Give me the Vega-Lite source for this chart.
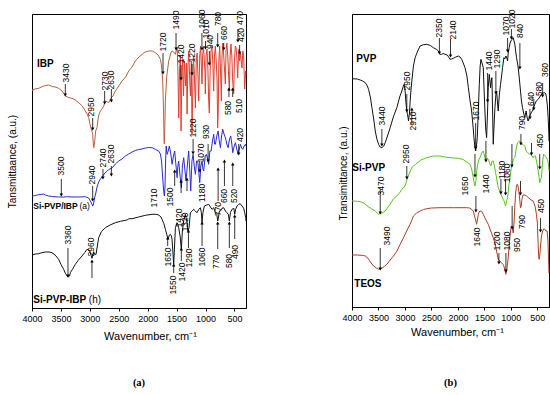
{
"$schema": "https://vega.github.io/schema/vega-lite/v6.json",
"background": "white",
"padding": {"left": 7, "top": 9, "right": 0, "bottom": 0},
"bounds": "flush",
"spacing": 106,
"config": {
  "font": "Liberation Sans",
  "view": {"stroke": "black", "strokeWidth": 1},
  "axis": {"domainColor": "black", "domainWidth": 1, "tickColor": "black", "labelColor": "black", "titleColor": "black", "grid": false, "labelFont": "Liberation Sans", "titleFont": "Liberation Sans", "titleFontWeight": "normal"}
},
"datasets": {
"a_lines": [
{"s":"IBP","w":4000,"v":217.7},{"s":"IBP","w":3950,"v":219},{"s":"IBP","w":3885,"v":219.7},{"s":"IBP","w":3800,"v":222},{"s":"IBP","w":3712,"v":223},{"s":"IBP","w":3650,"v":221.5},{"s":"IBP","w":3600,"v":221},{"s":"IBP","w":3539,"v":219.7},{"s":"IBP","w":3480,"v":217},{"s":"IBP","w":3424,"v":212},{"s":"IBP","w":3370,"v":210.5},{"s":"IBP","w":3309,"v":209.7},{"s":"IBP","w":3250,"v":208},{"s":"IBP","w":3193,"v":205.3},{"s":"IBP","w":3130,"v":202},{"s":"IBP","w":3078,"v":197},{"s":"IBP","w":3040,"v":193},{"s":"IBP","w":3020,"v":190.3},{"s":"IBP","w":2991,"v":182},{"s":"IBP","w":2965,"v":177},{"s":"IBP","w":2951,"v":173.7},{"s":"IBP","w":2940,"v":164},{"s":"IBP","w":2930,"v":160.3},{"s":"IBP","w":2915,"v":167},{"s":"IBP","w":2900,"v":177},{"s":"IBP","w":2876,"v":180.3},{"s":"IBP","w":2850,"v":192},{"s":"IBP","w":2818,"v":197},{"s":"IBP","w":2790,"v":199},{"s":"IBP","w":2760,"v":202},{"s":"IBP","w":2732,"v":207},{"s":"IBP","w":2700,"v":206},{"s":"IBP","w":2674,"v":205.3},{"s":"IBP","w":2650,"v":208},{"s":"IBP","w":2628,"v":210.3},{"s":"IBP","w":2600,"v":212},{"s":"IBP","w":2559,"v":217},{"s":"IBP","w":2500,"v":222},{"s":"IBP","w":2443,"v":227},{"s":"IBP","w":2380,"v":231},{"s":"IBP","w":2328,"v":237},{"s":"IBP","w":2270,"v":241},{"s":"IBP","w":2213,"v":247},{"s":"IBP","w":2150,"v":251},{"s":"IBP","w":2097,"v":253.7},{"s":"IBP","w":2040,"v":256},{"s":"IBP","w":1982,"v":257},{"s":"IBP","w":1920,"v":257},{"s":"IBP","w":1867,"v":255.3},{"s":"IBP","w":1820,"v":253},{"s":"IBP","w":1780,"v":248.7},{"s":"IBP","w":1760,"v":242},{"s":"IBP","w":1740,"v":227},{"s":"IBP","w":1725,"v":197},{"s":"IBP","w":1717,"v":167},{"s":"IBP","w":1712,"v":164},{"s":"IBP","w":1705,"v":177},{"s":"IBP","w":1694,"v":207},{"s":"IBP","w":1670,"v":232},{"s":"IBP","w":1636,"v":247},{"s":"IBP","w":1600,"v":255},{"s":"IBP","w":1579,"v":257},{"s":"IBP","w":1550,"v":256},{"s":"IBP","w":1521,"v":253.7},
{"s":"IBPf","w":1521,"v":253.7},{"s":"IBPf","w":1500,"v":259},{"s":"IBPf","w":1490,"v":261},{"s":"IBPf","w":1475,"v":232},{"s":"IBPf","w":1463,"v":190},{"s":"IBPf","w":1450,"v":237},{"s":"IBPf","w":1435,"v":252},{"s":"IBPf","w":1423,"v":177},{"s":"IBPf","w":1410,"v":227},{"s":"IBPf","w":1395,"v":249},{"s":"IBPf","w":1380,"v":212},{"s":"IBPf","w":1365,"v":247},{"s":"IBPf","w":1345,"v":222},{"s":"IBPf","w":1330,"v":245},{"s":"IBPf","w":1319,"v":194},{"s":"IBPf","w":1305,"v":242},{"s":"IBPf","w":1290,"v":257},{"s":"IBPf","w":1275,"v":232},{"s":"IBPf","w":1260,"v":212},{"s":"IBPf","w":1245,"v":247},{"s":"IBPf","w":1233,"v":174},{"s":"IBPf","w":1220,"v":217},{"s":"IBPf","w":1210,"v":252},{"s":"IBPf","w":1195,"v":237},{"s":"IBPf","w":1175,"v":200},{"s":"IBPf","w":1160,"v":247},{"s":"IBPf","w":1145,"v":255},{"s":"IBPf","w":1130,"v":232},{"s":"IBPf","w":1118,"v":207},{"s":"IBPf","w":1100,"v":252},{"s":"IBPf","w":1085,"v":262},{"s":"IBPf","w":1075,"v":247},{"s":"IBPf","w":1061,"v":224},{"s":"IBPf","w":1050,"v":252},{"s":"IBPf","w":1035,"v":262},{"s":"IBPf","w":1020,"v":247},{"s":"IBPf","w":1010,"v":237},{"s":"IBPf","w":1003,"v":214},{"s":"IBPf","w":990,"v":252},{"s":"IBPf","w":975,"v":259},{"s":"IBPf","w":960,"v":242},{"s":"IBPf","w":945,"v":207},{"s":"IBPf","w":934,"v":195},{"s":"IBPf","w":920,"v":237},{"s":"IBPf","w":905,"v":257},{"s":"IBPf","w":890,"v":262},{"s":"IBPf","w":875,"v":247},{"s":"IBPf","w":859,"v":217},{"s":"IBPf","w":845,"v":252},{"s":"IBPf","w":830,"v":262},{"s":"IBPf","w":815,"v":247},{"s":"IBPf","w":800,"v":227},{"s":"IBPf","w":790,"v":180},{"s":"IBPf","w":780,"v":197},{"s":"IBPf","w":770,"v":247},{"s":"IBPf","w":755,"v":262},{"s":"IBPf","w":740,"v":237},{"s":"IBPf","w":727,"v":207},{"s":"IBPf","w":715,"v":252},{"s":"IBPf","w":700,"v":265},{"s":"IBPf","w":685,"v":252},{"s":"IBPf","w":670,"v":237},{"s":"IBPf","w":657,"v":224},{"s":"IBPf","w":645,"v":257},{"s":"IBPf","w":630,"v":265},{"s":"IBPf","w":615,"v":252},{"s":"IBPf","w":600,"v":232},{"s":"IBPf","w":588,"v":217},{"s":"IBPf","w":575,"v":252},{"s":"IBPf","w":560,"v":264},{"s":"IBPf","w":545,"v":252},{"s":"IBPf","w":530,"v":227},{"s":"IBPf","w":513,"v":214},{"s":"IBPf","w":500,"v":247},{"s":"IBPf","w":485,"v":262},{"s":"IBPf","w":470,"v":260},{"s":"IBPf","w":455,"v":247},{"s":"IBPf","w":444,"v":230},{"s":"IBPf","w":430,"v":252},{"s":"IBPf","w":420,"v":259},{"s":"IBPf","w":410,"v":247},{"s":"IBPf","w":395,"v":255},{"s":"IBPf","w":380,"v":245},{"s":"IBPf","w":369,"v":240},{"s":"IBPf","w":355,"v":257},{"s":"IBPf","w":340,"v":252},{"s":"IBPf","w":330,"v":232},{"s":"IBPf","w":323,"v":219},{"s":"IBPf","w":315,"v":227},{"s":"IBPf","w":305,"v":237},{"s":"IBPf","w":300,"v":232},
{"s":"SiA","w":4000,"v":111.7},{"s":"SiA","w":3950,"v":112.5},{"s":"SiA","w":3885,"v":113.3},{"s":"SiA","w":3800,"v":114},{"s":"SiA","w":3770,"v":113},{"s":"SiA","w":3712,"v":112},{"s":"SiA","w":3650,"v":111.5},{"s":"SiA","w":3539,"v":111},{"s":"SiA","w":3450,"v":111},{"s":"SiA","w":3400,"v":111.3},{"s":"SiA","w":3309,"v":111},{"s":"SiA","w":3193,"v":111},{"s":"SiA","w":3078,"v":111.3},{"s":"SiA","w":3020,"v":110},{"s":"SiA","w":2991,"v":107},{"s":"SiA","w":2965,"v":104},{"s":"SiA","w":2951,"v":102},{"s":"SiA","w":2940,"v":103},{"s":"SiA","w":2930,"v":106},{"s":"SiA","w":2915,"v":111},{"s":"SiA","w":2900,"v":114},{"s":"SiA","w":2876,"v":121},{"s":"SiA","w":2847,"v":126},{"s":"SiA","w":2818,"v":129},{"s":"SiA","w":2790,"v":131},{"s":"SiA","w":2740,"v":135},{"s":"SiA","w":2700,"v":137},{"s":"SiA","w":2674,"v":138.5},{"s":"SiA","w":2630,"v":139.5},{"s":"SiA","w":2600,"v":141},{"s":"SiA","w":2559,"v":144},{"s":"SiA","w":2500,"v":147},{"s":"SiA","w":2443,"v":149},{"s":"SiA","w":2386,"v":152},{"s":"SiA","w":2328,"v":154},{"s":"SiA","w":2270,"v":156},{"s":"SiA","w":2213,"v":157.5},{"s":"SiA","w":2155,"v":158.5},{"s":"SiA","w":2097,"v":159},{"s":"SiA","w":2040,"v":160},{"s":"SiA","w":1982,"v":160.5},{"s":"SiA","w":1924,"v":160.3},{"s":"SiA","w":1867,"v":158.7},{"s":"SiA","w":1810,"v":157},{"s":"SiA","w":1780,"v":154},{"s":"SiA","w":1760,"v":147},{"s":"SiA","w":1745,"v":134},{"s":"SiA","w":1730,"v":122},{"s":"SiA","w":1718,"v":114},{"s":"SiA","w":1710,"v":112},{"s":"SiA","w":1700,"v":122},{"s":"SiA","w":1690,"v":147},{"s":"SiA","w":1680,"v":162},{"s":"SiA","w":1664,"v":153.7},{"s":"SiA","w":1645,"v":157},{"s":"SiA","w":1625,"v":162},{"s":"SiA","w":1600,"v":154},{"s":"SiA","w":1578,"v":143.7},{"s":"SiA","w":1555,"v":152},{"s":"SiA","w":1533,"v":157},{"s":"SiA","w":1510,"v":142},{"s":"SiA","w":1491,"v":130.3},{"s":"SiA","w":1478,"v":142},{"s":"SiA","w":1464,"v":147},{"s":"SiA","w":1440,"v":132},{"s":"SiA","w":1417,"v":120.3},{"s":"SiA","w":1400,"v":142},{"s":"SiA","w":1377,"v":150.3},{"s":"SiA","w":1355,"v":137},{"s":"SiA","w":1336,"v":127},{"s":"SiA","w":1315,"v":142},{"s":"SiA","w":1291,"v":157},{"s":"SiA","w":1272,"v":137},{"s":"SiA","w":1256,"v":117},{"s":"SiA","w":1235,"v":147},{"s":"SiA","w":1215,"v":153.7},{"s":"SiA","w":1195,"v":142},{"s":"SiA","w":1175,"v":133.7},{"s":"SiA","w":1155,"v":147},{"s":"SiA","w":1135,"v":147},{"s":"SiA","w":1118,"v":137},{"s":"SiA","w":1100,"v":125.3},{"s":"SiA","w":1080,"v":142},{"s":"SiA","w":1059,"v":147},{"s":"SiA","w":1045,"v":139},{"s":"SiA","w":1031,"v":137},{"s":"SiA","w":1005,"v":152},{"s":"SiA","w":984,"v":153.7},{"s":"SiA","w":965,"v":149},{"s":"SiA","w":945,"v":143.7},{"s":"SiA","w":925,"v":157},{"s":"SiA","w":903,"v":157},{"s":"SiA","w":880,"v":167},{"s":"SiA","w":858,"v":173.7},{"s":"SiA","w":843,"v":164},{"s":"SiA","w":829,"v":163.7},{"s":"SiA","w":805,"v":172},{"s":"SiA","w":782,"v":177},{"s":"SiA","w":762,"v":167},{"s":"SiA","w":742,"v":160.3},{"s":"SiA","w":722,"v":172},{"s":"SiA","w":702,"v":178.7},{"s":"SiA","w":680,"v":174},{"s":"SiA","w":656,"v":170.3},{"s":"SiA","w":632,"v":164},{"s":"SiA","w":609,"v":160.3},{"s":"SiA","w":585,"v":169},{"s":"SiA","w":564,"v":172},{"s":"SiA","w":545,"v":164},{"s":"SiA","w":529,"v":155.3},{"s":"SiA","w":505,"v":162},{"s":"SiA","w":483,"v":165.3},{"s":"SiA","w":460,"v":159},{"s":"SiA","w":436,"v":153.7},{"s":"SiA","w":415,"v":159},{"s":"SiA","w":396,"v":163.7},{"s":"SiA","w":375,"v":160},{"s":"SiA","w":356,"v":158.7},{"s":"SiA","w":330,"v":162},{"s":"SiA","w":310,"v":163.7},{"s":"SiA","w":300,"v":162},
{"s":"SiH","w":4000,"v":53},{"s":"SiH","w":3940,"v":54},{"s":"SiH","w":3885,"v":54.3},{"s":"SiH","w":3830,"v":55.3},{"s":"SiH","w":3770,"v":56},{"s":"SiH","w":3700,"v":56},{"s":"SiH","w":3655,"v":55.3},{"s":"SiH","w":3600,"v":53},{"s":"SiH","w":3539,"v":48.7},{"s":"SiH","w":3500,"v":43.7},{"s":"SiH","w":3453,"v":38.7},{"s":"SiH","w":3420,"v":34.3},{"s":"SiH","w":3378,"v":31},{"s":"SiH","w":3350,"v":32},{"s":"SiH","w":3337,"v":35.3},{"s":"SiH","w":3300,"v":38.7},{"s":"SiH","w":3251,"v":43.7},{"s":"SiH","w":3200,"v":47.7},{"s":"SiH","w":3136,"v":52},{"s":"SiH","w":3090,"v":55.3},{"s":"SiH","w":3049,"v":58.7},{"s":"SiH","w":3010,"v":57.7},{"s":"SiH","w":2991,"v":55.3},{"s":"SiH","w":2975,"v":52},{"s":"SiH","w":2963,"v":49.7},{"s":"SiH","w":2950,"v":53},{"s":"SiH","w":2934,"v":56.3},{"s":"SiH","w":2920,"v":53.7},{"s":"SiH","w":2893,"v":53.7},{"s":"SiH","w":2870,"v":62},{"s":"SiH","w":2847,"v":70.3},{"s":"SiH","w":2800,"v":76.3},{"s":"SiH","w":2732,"v":80.3},{"s":"SiH","w":2650,"v":83},{"s":"SiH","w":2559,"v":85.3},{"s":"SiH","w":2470,"v":86.7},{"s":"SiH","w":2386,"v":87.7},{"s":"SiH","w":2350,"v":88},{"s":"SiH","w":2330,"v":89.3},{"s":"SiH","w":2270,"v":89.3},{"s":"SiH","w":2155,"v":91},{"s":"SiH","w":2040,"v":92.7},{"s":"SiH","w":1924,"v":93.7},{"s":"SiH","w":1860,"v":93.7},{"s":"SiH","w":1809,"v":93},{"s":"SiH","w":1770,"v":91},{"s":"SiH","w":1752,"v":88.7},{"s":"SiH","w":1720,"v":84.3},{"s":"SiH","w":1694,"v":78.7},{"s":"SiH","w":1670,"v":73.7},{"s":"SiH","w":1648,"v":68.7},{"s":"SiH","w":1625,"v":73},{"s":"SiH","w":1607,"v":73.7},{"s":"SiH","w":1590,"v":72},{"s":"SiH","w":1579,"v":68.7},{"s":"SiH","w":1565,"v":57},{"s":"SiH","w":1550,"v":43.7},{"s":"SiH","w":1535,"v":62},{"s":"SiH","w":1521,"v":80.3},{"s":"SiH","w":1493,"v":85.3},{"s":"SiH","w":1478,"v":83.7},{"s":"SiH","w":1464,"v":80.3},{"s":"SiH","w":1440,"v":72},{"s":"SiH","w":1418,"v":58.7},{"s":"SiH","w":1400,"v":77},{"s":"SiH","w":1378,"v":87},{"s":"SiH","w":1349,"v":93.7},{"s":"SiH","w":1325,"v":87.7},{"s":"SiH","w":1303,"v":77},{"s":"SiH","w":1285,"v":80.3},{"s":"SiH","w":1262,"v":95.3},{"s":"SiH","w":1230,"v":97},{"s":"SiH","w":1205,"v":98.7},{"s":"SiH","w":1175,"v":97},{"s":"SiH","w":1147,"v":95.3},{"s":"SiH","w":1115,"v":98.7},{"s":"SiH","w":1089,"v":100.3},{"s":"SiH","w":1072,"v":95.3},{"s":"SiH","w":1060,"v":85.3},{"s":"SiH","w":1045,"v":95.3},{"s":"SiH","w":1020,"v":102},{"s":"SiH","w":980,"v":103},{"s":"SiH","w":945,"v":103.7},{"s":"SiH","w":915,"v":101},{"s":"SiH","w":887,"v":98.7},{"s":"SiH","w":858,"v":100.3},{"s":"SiH","w":830,"v":95.3},{"s":"SiH","w":805,"v":93.7},{"s":"SiH","w":789,"v":87},{"s":"SiH","w":775,"v":91},{"s":"SiH","w":760,"v":97},{"s":"SiH","w":743,"v":97},{"s":"SiH","w":715,"v":99.7},{"s":"SiH","w":686,"v":100.3},{"s":"SiH","w":655,"v":97},{"s":"SiH","w":628,"v":95.3},{"s":"SiH","w":605,"v":93.7},{"s":"SiH","w":588,"v":87},{"s":"SiH","w":570,"v":95.3},{"s":"SiH","w":541,"v":98.7},{"s":"SiH","w":510,"v":99.7},{"s":"SiH","w":495,"v":93.7},{"s":"SiH","w":480,"v":98.7},{"s":"SiH","w":455,"v":102},{"s":"SiH","w":426,"v":103.7},{"s":"SiH","w":400,"v":104.3},{"s":"SiH","w":368,"v":102},{"s":"SiH","w":340,"v":99.7},{"s":"SiH","w":322,"v":95.3},{"s":"SiH","w":305,"v":90.3},{"s":"SiH","w":300,"v":87}
],
"a_txt": [
{"w":3410,"v":235,"t":"3430"},{"w":2974,"v":201,"t":"2950"},{"w":2744,"v":227,"t":"2730"},{"w":2628,"v":228,"t":"2630"},{"w":1740,"v":266,"t":"1720"},{"w":1510,"v":288,"t":"1490"},{"w":1423,"v":254,"t":"1420"},{"w":1233,"v":255,"t":"1220"},{"w":1059,"v":289,"t":"1060"},{"w":997,"v":279,"t":"1010"},{"w":927,"v":266,"t":"940"},{"w":789,"v":289,"t":"780"},{"w":685,"v":275,"t":"660"},{"w":410,"v":290,"t":"470"},{"w":390,"v":273,"t":"420"},{"w":615,"v":200,"t":"580"},{"w":420,"v":202,"t":"510"},
{"w":3493,"v":142,"t":"3500"},{"w":2960,"v":133,"t":"2940"},{"w":2773,"v":150,"t":"2740"},{"w":2628,"v":154,"t":"2630"},{"w":1896,"v":110,"t":"1710"},{"w":1607,"v":111,"t":"1500"},{"w":1464,"v":90,"t":"1420"},{"w":1348,"v":86,"t":"1320"},{"w":1215,"v":180,"t":"1220"},{"w":1071,"v":155,"t":"1070"},{"w":1059,"v":115,"t":"1180"},{"w":984,"v":176,"t":"930"},{"w":785,"v":99,"t":"770"},{"w":673,"v":112,"t":"660"},{"w":512,"v":112,"t":"520"},{"w":408,"v":173,"t":"420"},
{"w":3378,"v":73,"t":"3360"},{"w":2979,"v":61,"t":"2960"},{"w":1654,"v":51,"t":"1650"},{"w":1561,"v":23,"t":"1550"},{"w":1405,"v":36,"t":"1420"},{"w":1291,"v":50,"t":"1290"},{"w":1059,"v":51,"t":"1060"},{"w":811,"v":46,"t":"770"},{"w":598,"v":47,"t":"580"},{"w":495,"v":56,"t":"490"}
],
"a_arr": [
{"w":3424,"v0":224,"v":213,"d":"down"},{"w":2951,"v0":190,"v":179,"d":"down"},{"w":2744,"v0":217,"v":205,"d":"down"},{"w":2628,"v0":219,"v":207,"d":"down"},{"w":1735,"v0":255,"v":235,"d":"down"},{"w":1510,"v0":275,"v":259,"d":"down"},{"w":1423,"v0":243,"v":229,"d":"down"},{"w":1233,"v0":244,"v":234,"d":"down"},{"w":1062,"v0":275,"v":259,"d":"down"},{"w":1000,"v0":267,"v":260,"d":"down"},{"w":934,"v0":257,"v":244,"d":"down"},{"w":789,"v0":275,"v":262,"d":"down"},{"w":685,"v0":265,"v":259,"d":"down"},{"w":440,"v0":279,"v":267,"d":"down"},{"w":410,"v0":263,"v":255,"d":"down"},{"w":595,"v0":211,"v":219,"d":"up"},{"w":530,"v0":211,"v":219,"d":"up"},
{"w":3493,"v0":129,"v":113,"d":"down"},{"w":2951,"v0":122,"v":108,"d":"down"},{"w":2773,"v0":139,"v":130,"d":"down"},{"w":2628,"v0":142,"v":133,"d":"down"},{"w":1533,"v0":122,"v":137,"d":"up"},{"w":1422,"v0":115,"v":127,"d":"up"},{"w":1320,"v0":117,"v":129,"d":"up"},{"w":1215,"v0":169,"v":155,"d":"down"},{"w":1100,"v0":147,"v":137,"d":"down"},{"w":955,"v0":164,"v":147,"d":"down"},{"w":782,"v0":107,"v":139,"d":"up"},{"w":673,"v0":122,"v":147,"d":"up"},{"w":529,"v0":122,"v":144,"d":"up"},{"w":426,"v0":164,"v":154,"d":"down"},
{"w":3378,"v0":60,"v":32,"d":"down"},{"w":2963,"v0":30,"v":47,"d":"up"},{"w":1654,"v0":62,"v":70,"d":"up"},{"w":1550,"v0":35,"v":43,"d":"up"},{"w":1418,"v0":47,"v":59,"d":"up"},{"w":1295,"v0":60,"v":77,"d":"up"},{"w":1060,"v0":62,"v":85,"d":"up"},{"w":789,"v0":59,"v":85,"d":"up"},{"w":588,"v0":60,"v":85,"d":"up"},{"w":495,"v0":69,"v":92,"d":"up"}
],
"a_names": [
{"w":3913,"v":244,"t":"IBP"},{"w":3978,"v":7.7,"t":"Si-PVP-IBP"}
],
"a_names_small": [
{"w":3978,"v":102,"t":"Si-PVP/IBP"}
],
"a_tags": [
{"w":3017,"v":7.7,"t":"(h)"}
],
"a_tags_small": [
{"w":3180,"v":102,"t":"(a)"}
],
"b_lines": [
{"s":"PVP","w":4000,"v":228.3},{"s":"PVP","w":3900,"v":228},{"s":"PVP","w":3844,"v":227},{"s":"PVP","w":3800,"v":226},{"s":"PVP","w":3750,"v":224.3},{"s":"PVP","w":3710,"v":221},{"s":"PVP","w":3687,"v":217.7},{"s":"PVP","w":3650,"v":209},{"s":"PVP","w":3624,"v":199.3},{"s":"PVP","w":3590,"v":188},{"s":"PVP","w":3561,"v":176},{"s":"PVP","w":3530,"v":168},{"s":"PVP","w":3498,"v":162.7},{"s":"PVP","w":3470,"v":160},{"s":"PVP","w":3436,"v":159.3},{"s":"PVP","w":3400,"v":161},{"s":"PVP","w":3373,"v":164.3},{"s":"PVP","w":3330,"v":171},{"s":"PVP","w":3279,"v":179.3},{"s":"PVP","w":3220,"v":190},{"s":"PVP","w":3153,"v":199.3},{"s":"PVP","w":3100,"v":210},{"s":"PVP","w":3059,"v":216},{"s":"PVP","w":3030,"v":221},{"s":"PVP","w":3015,"v":222.7},{"s":"PVP","w":3000,"v":218},{"s":"PVP","w":2984,"v":206},{"s":"PVP","w":2965,"v":196},{"s":"PVP","w":2952,"v":192.7},{"s":"PVP","w":2940,"v":189},{"s":"PVP","w":2933,"v":186},{"s":"PVP","w":2915,"v":194},{"s":"PVP","w":2902,"v":206},{"s":"PVP","w":2885,"v":218},{"s":"PVP","w":2870,"v":226},{"s":"PVP","w":2840,"v":241},{"s":"PVP","w":2808,"v":249.3},{"s":"PVP","w":2760,"v":256},{"s":"PVP","w":2714,"v":261},{"s":"PVP","w":2650,"v":262.3},{"s":"PVP","w":2588,"v":262.7},{"s":"PVP","w":2520,"v":261.5},{"s":"PVP","w":2463,"v":259.3},{"s":"PVP","w":2400,"v":257.5},{"s":"PVP","w":2369,"v":256},{"s":"PVP","w":2340,"v":252.7},{"s":"PVP","w":2306,"v":252.7},{"s":"PVP","w":2280,"v":253.5},{"s":"PVP","w":2243,"v":252.7},{"s":"PVP","w":2200,"v":252},{"s":"PVP","w":2170,"v":249.5},{"s":"PVP","w":2149,"v":247.7},{"s":"PVP","w":2120,"v":248},{"s":"PVP","w":2086,"v":248.7},{"s":"PVP","w":2040,"v":250},{"s":"PVP","w":1992,"v":251},{"s":"PVP","w":1960,"v":250},{"s":"PVP","w":1929,"v":247.7},{"s":"PVP","w":1900,"v":244},{"s":"PVP","w":1866,"v":239.3},{"s":"PVP","w":1830,"v":231},{"s":"PVP","w":1803,"v":219.3},{"s":"PVP","w":1770,"v":206},{"s":"PVP","w":1741,"v":196},{"s":"PVP","w":1715,"v":181},{"s":"PVP","w":1697,"v":169.3},{"s":"PVP","w":1680,"v":160},{"s":"PVP","w":1665,"v":156},{"s":"PVP","w":1650,"v":161},{"s":"PVP","w":1634,"v":169.3},{"s":"PVP","w":1615,"v":196},{"s":"PVP","w":1596,"v":222.7},{"s":"PVP","w":1580,"v":241},{"s":"PVP","w":1565,"v":247.7},{"s":"PVP","w":1545,"v":244},{"s":"PVP","w":1521,"v":239.3},{"s":"PVP","w":1505,"v":216},{"s":"PVP","w":1490,"v":196},{"s":"PVP","w":1475,"v":178},{"s":"PVP","w":1458,"v":169.3},{"s":"PVP","w":1440,"v":196},{"s":"PVP","w":1427,"v":219.3},{"s":"PVP","w":1408,"v":232.7},{"s":"PVP","w":1395,"v":226},{"s":"PVP","w":1383,"v":219.3},{"s":"PVP","w":1370,"v":226},{"s":"PVP","w":1358,"v":229.3},{"s":"PVP","w":1345,"v":196},{"s":"PVP","w":1333,"v":162.7},{"s":"PVP","w":1318,"v":181},{"s":"PVP","w":1301,"v":199.3},{"s":"PVP","w":1285,"v":211},{"s":"PVP","w":1270,"v":216},{"s":"PVP","w":1255,"v":206},{"s":"PVP","w":1239,"v":196},{"s":"PVP","w":1220,"v":211},{"s":"PVP","w":1195,"v":222.7},{"s":"PVP","w":1175,"v":231},{"s":"PVP","w":1157,"v":239.3},{"s":"PVP","w":1140,"v":246},{"s":"PVP","w":1132,"v":249.3},{"s":"PVP","w":1115,"v":248},{"s":"PVP","w":1094,"v":251},{"s":"PVP","w":1075,"v":249},{"s":"PVP","w":1063,"v":246},{"s":"PVP","w":1050,"v":254},{"s":"PVP","w":1032,"v":259.3},{"s":"PVP","w":1015,"v":264},{"s":"PVP","w":1000,"v":266},{"s":"PVP","w":980,"v":267.5},{"s":"PVP","w":956,"v":269.3},{"s":"PVP","w":940,"v":266},{"s":"PVP","w":925,"v":262.7},{"s":"PVP","w":910,"v":256},{"s":"PVP","w":893,"v":249.3},{"s":"PVP","w":875,"v":244},{"s":"PVP","w":862,"v":239.3},{"s":"PVP","w":845,"v":231},{"s":"PVP","w":818,"v":216},{"s":"PVP","w":800,"v":206},{"s":"PVP","w":780,"v":199.3},{"s":"PVP","w":760,"v":194},{"s":"PVP","w":736,"v":189.3},{"s":"PVP","w":725,"v":193},{"s":"PVP","w":712,"v":196},{"s":"PVP","w":695,"v":190},{"s":"PVP","w":674,"v":186},{"s":"PVP","w":650,"v":190},{"s":"PVP","w":630,"v":192.7},{"s":"PVP","w":610,"v":195},{"s":"PVP","w":592,"v":196},{"s":"PVP","w":570,"v":200},{"s":"PVP","w":548,"v":202.7},{"s":"PVP","w":520,"v":206},{"s":"PVP","w":485,"v":207.7},{"s":"PVP","w":455,"v":210},{"s":"PVP","w":422,"v":212.7},{"s":"PVP","w":390,"v":214},{"s":"PVP","w":359,"v":214.3},{"s":"PVP","w":340,"v":213},{"s":"PVP","w":327,"v":209.3},{"s":"PVP","w":310,"v":201},{"s":"PVP","w":296,"v":189.3},{"s":"PVP","w":285,"v":176},{"s":"PVP","w":280,"v":166},
{"s":"SiPVP","w":4000,"v":106},{"s":"SiPVP","w":3900,"v":105.7},{"s":"SiPVP","w":3844,"v":105.3},{"s":"SiPVP","w":3780,"v":104},{"s":"SiPVP","w":3750,"v":102.7},{"s":"SiPVP","w":3700,"v":100.5},{"s":"SiPVP","w":3624,"v":98},{"s":"SiPVP","w":3561,"v":96},{"s":"SiPVP","w":3498,"v":92.7},{"s":"SiPVP","w":3436,"v":94},{"s":"SiPVP","w":3373,"v":96},{"s":"SiPVP","w":3320,"v":100},{"s":"SiPVP","w":3279,"v":102.7},{"s":"SiPVP","w":3220,"v":108},{"s":"SiPVP","w":3153,"v":111},{"s":"SiPVP","w":3100,"v":114.3},{"s":"SiPVP","w":3059,"v":117.7},{"s":"SiPVP","w":3000,"v":121},{"s":"SiPVP","w":2950,"v":129.3},{"s":"SiPVP","w":2900,"v":136},{"s":"SiPVP","w":2860,"v":140},{"s":"SiPVP","w":2800,"v":142.7},{"s":"SiPVP","w":2700,"v":147},{"s":"SiPVP","w":2588,"v":149.3},{"s":"SiPVP","w":2463,"v":151},{"s":"SiPVP","w":2337,"v":151},{"s":"SiPVP","w":2250,"v":150},{"s":"SiPVP","w":2150,"v":149.3},{"s":"SiPVP","w":2000,"v":148.7},{"s":"SiPVP","w":1900,"v":147.5},{"s":"SiPVP","w":1866,"v":146},{"s":"SiPVP","w":1810,"v":144.3},{"s":"SiPVP","w":1772,"v":142.7},{"s":"SiPVP","w":1740,"v":138},{"s":"SiPVP","w":1710,"v":129.3},{"s":"SiPVP","w":1690,"v":123},{"s":"SiPVP","w":1678,"v":121},{"s":"SiPVP","w":1660,"v":126},{"s":"SiPVP","w":1645,"v":136},{"s":"SiPVP","w":1627,"v":142.7},{"s":"SiPVP","w":1600,"v":148},{"s":"SiPVP","w":1584,"v":149.3},{"s":"SiPVP","w":1550,"v":154},{"s":"SiPVP","w":1521,"v":156},{"s":"SiPVP","w":1500,"v":152},{"s":"SiPVP","w":1477,"v":146},{"s":"SiPVP","w":1450,"v":149},{"s":"SiPVP","w":1427,"v":147.7},{"s":"SiPVP","w":1400,"v":144},{"s":"SiPVP","w":1377,"v":141},{"s":"SiPVP","w":1355,"v":146},{"s":"SiPVP","w":1333,"v":146},{"s":"SiPVP","w":1310,"v":141},{"s":"SiPVP","w":1288,"v":134.3},{"s":"SiPVP","w":1260,"v":126},{"s":"SiPVP","w":1239,"v":119.3},{"s":"SiPVP","w":1210,"v":116},{"s":"SiPVP","w":1188,"v":112.7},{"s":"SiPVP","w":1165,"v":110},{"s":"SiPVP","w":1145,"v":107.7},{"s":"SiPVP","w":1120,"v":105},{"s":"SiPVP","w":1100,"v":101},{"s":"SiPVP","w":1080,"v":106},{"s":"SiPVP","w":1062,"v":109.3},{"s":"SiPVP","w":1040,"v":121},{"s":"SiPVP","w":1018,"v":129.3},{"s":"SiPVP","w":995,"v":138},{"s":"SiPVP","w":975,"v":142.7},{"s":"SiPVP","w":950,"v":148},{"s":"SiPVP","w":924,"v":149.3},{"s":"SiPVP","w":900,"v":158},{"s":"SiPVP","w":874,"v":164.3},{"s":"SiPVP","w":850,"v":165.5},{"s":"SiPVP","w":830,"v":166},{"s":"SiPVP","w":810,"v":164},{"s":"SiPVP","w":787,"v":162.7},{"s":"SiPVP","w":760,"v":162},{"s":"SiPVP","w":736,"v":161},{"s":"SiPVP","w":710,"v":156},{"s":"SiPVP","w":685,"v":154.3},{"s":"SiPVP","w":650,"v":153},{"s":"SiPVP","w":623,"v":152.7},{"s":"SiPVP","w":600,"v":151},{"s":"SiPVP","w":579,"v":149.3},{"s":"SiPVP","w":560,"v":151},{"s":"SiPVP","w":535,"v":151},{"s":"SiPVP","w":510,"v":144},{"s":"SiPVP","w":485,"v":136},{"s":"SiPVP","w":470,"v":131},{"s":"SiPVP","w":453,"v":124.3},{"s":"SiPVP","w":438,"v":128},{"s":"SiPVP","w":422,"v":129.3},{"s":"SiPVP","w":400,"v":146},{"s":"SiPVP","w":380,"v":152.7},{"s":"SiPVP","w":350,"v":151},{"s":"SiPVP","w":328,"v":149.3},{"s":"SiPVP","w":300,"v":146},{"s":"SiPVP","w":284,"v":139.3},{"s":"SiPVP","w":280,"v":136},
{"s":"TEOS","w":4000,"v":52},{"s":"TEOS","w":3900,"v":52},{"s":"TEOS","w":3780,"v":51.5},{"s":"TEOS","w":3750,"v":51},{"s":"TEOS","w":3700,"v":49},{"s":"TEOS","w":3687,"v":47.7},{"s":"TEOS","w":3640,"v":44},{"s":"TEOS","w":3593,"v":41},{"s":"TEOS","w":3540,"v":39},{"s":"TEOS","w":3498,"v":37.7},{"s":"TEOS","w":3470,"v":38},{"s":"TEOS","w":3436,"v":38.7},{"s":"TEOS","w":3390,"v":40.5},{"s":"TEOS","w":3341,"v":42.7},{"s":"TEOS","w":3280,"v":47},{"s":"TEOS","w":3216,"v":51},{"s":"TEOS","w":3150,"v":56},{"s":"TEOS","w":3090,"v":62.7},{"s":"TEOS","w":3040,"v":68},{"s":"TEOS","w":2996,"v":72.7},{"s":"TEOS","w":2950,"v":78},{"s":"TEOS","w":2902,"v":82.7},{"s":"TEOS","w":2870,"v":87},{"s":"TEOS","w":2839,"v":91},{"s":"TEOS","w":2780,"v":94},{"s":"TEOS","w":2714,"v":96},{"s":"TEOS","w":2650,"v":97.5},{"s":"TEOS","w":2588,"v":98.3},{"s":"TEOS","w":2500,"v":99},{"s":"TEOS","w":2337,"v":99.3},{"s":"TEOS","w":2086,"v":99.3},{"s":"TEOS","w":1835,"v":99.3},{"s":"TEOS","w":1780,"v":99},{"s":"TEOS","w":1741,"v":97.7},{"s":"TEOS","w":1710,"v":96},{"s":"TEOS","w":1678,"v":89.3},{"s":"TEOS","w":1660,"v":86},{"s":"TEOS","w":1647,"v":82.7},{"s":"TEOS","w":1630,"v":88},{"s":"TEOS","w":1615,"v":92.7},{"s":"TEOS","w":1600,"v":95},{"s":"TEOS","w":1584,"v":96},{"s":"TEOS","w":1550,"v":95.5},{"s":"TEOS","w":1521,"v":92.7},{"s":"TEOS","w":1480,"v":88},{"s":"TEOS","w":1427,"v":82.7},{"s":"TEOS","w":1380,"v":76},{"s":"TEOS","w":1333,"v":69.3},{"s":"TEOS","w":1300,"v":64},{"s":"TEOS","w":1270,"v":56},{"s":"TEOS","w":1239,"v":47.7},{"s":"TEOS","w":1210,"v":46},{"s":"TEOS","w":1176,"v":44.3},{"s":"TEOS","w":1150,"v":42.7},{"s":"TEOS","w":1132,"v":41},{"s":"TEOS","w":1110,"v":36},{"s":"TEOS","w":1094,"v":32.7},{"s":"TEOS","w":1075,"v":38},{"s":"TEOS","w":1057,"v":46},{"s":"TEOS","w":1040,"v":56},{"s":"TEOS","w":1019,"v":70},{"s":"TEOS","w":1000,"v":78},{"s":"TEOS","w":988,"v":81},{"s":"TEOS","w":970,"v":78},{"s":"TEOS","w":956,"v":74},{"s":"TEOS","w":940,"v":84},{"s":"TEOS","w":925,"v":101},{"s":"TEOS","w":910,"v":114},{"s":"TEOS","w":895,"v":121},{"s":"TEOS","w":881,"v":122.7},{"s":"TEOS","w":865,"v":121},{"s":"TEOS","w":850,"v":116},{"s":"TEOS","w":830,"v":106},{"s":"TEOS","w":818,"v":99},{"s":"TEOS","w":805,"v":101},{"s":"TEOS","w":790,"v":108},{"s":"TEOS","w":770,"v":112},{"s":"TEOS","w":740,"v":112},{"s":"TEOS","w":705,"v":111},{"s":"TEOS","w":660,"v":109},{"s":"TEOS","w":620,"v":107},{"s":"TEOS","w":579,"v":106},{"s":"TEOS","w":545,"v":101},{"s":"TEOS","w":517,"v":92.7},{"s":"TEOS","w":500,"v":84},{"s":"TEOS","w":485,"v":62.7},{"s":"TEOS","w":475,"v":51},{"s":"TEOS","w":466,"v":47.7},{"s":"TEOS","w":455,"v":51},{"s":"TEOS","w":440,"v":61},{"s":"TEOS","w":422,"v":71},{"s":"TEOS","w":400,"v":76},{"s":"TEOS","w":380,"v":78},{"s":"TEOS","w":359,"v":77.7},{"s":"TEOS","w":340,"v":76},{"s":"TEOS","w":315,"v":76},{"s":"TEOS","w":300,"v":66},{"s":"TEOS","w":290,"v":51},{"s":"TEOS","w":280,"v":34}
],
"b_txt": [
{"w":3435,"v":191,"t":"3440"},{"w":2953,"v":226,"t":"2950"},{"w":2840,"v":186,"t":"2910"},{"w":2350,"v":279,"t":"2350"},{"w":2090,"v":277,"t":"2140"},{"w":1665,"v":196,"t":"1670"},{"w":1420,"v":246,"t":"1440"},{"w":1260,"v":248,"t":"1290"},{"w":1095,"v":281,"t":"1070"},{"w":970,"v":288,"t":"1020"},{"w":820,"v":276,"t":"840"},{"w":623,"v":208,"t":"640"},{"w":473,"v":218,"t":"580"},{"w":360,"v":237,"t":"360"},
{"w":3448,"v":121,"t":"3470"},{"w":2977,"v":153,"t":"2950"},{"w":1870,"v":121,"t":"1650"},{"w":1471,"v":123,"t":"1440"},{"w":1164,"v":137,"t":"1180"},{"w":1070,"v":134,"t":"1060"},{"w":798,"v":184,"t":"790"},{"w":455,"v":166,"t":"450"},
{"w":3341,"v":71,"t":"3490"},{"w":1635,"v":70,"t":"1640"},{"w":1269,"v":66,"t":"1200"},{"w":1081,"v":66,"t":"1080"},{"w":881,"v":62,"t":"950"},{"w":793,"v":85,"t":"790"},{"w":435,"v":101,"t":"450"}
],
"b_arr": [
{"w":3436,"v0":178,"v":162,"d":"down"},{"w":2965,"v0":213,"v":196,"d":"down"},{"w":2870,"v0":183,"v":198,"d":"up"},{"w":2350,"v0":269,"v":254,"d":"down"},{"w":2140,"v0":268,"v":251,"d":"down"},{"w":1665,"v0":184,"v":159,"d":"down"},{"w":1440,"v0":234,"v":206,"d":"down"},{"w":1283,"v0":236,"v":214,"d":"down"},{"w":1062,"v0":269,"v":256,"d":"down"},{"w":990,"v0":278,"v":269,"d":"down"},{"w":830,"v0":264,"v":239,"d":"down"},{"w":640,"v0":198,"v":189,"d":"down"},{"w":567,"v0":208,"v":198,"d":"down"},{"w":400,"v0":224,"v":211,"d":"down"},
{"w":3467,"v0":118,"v":94,"d":"down"},{"w":2965,"v0":141,"v":129,"d":"down"},{"w":1678,"v0":153,"v":131,"d":"down"},{"w":1471,"v0":166,"v":146,"d":"down"},{"w":1188,"v0":128,"v":114,"d":"down"},{"w":1100,"v0":128,"v":113,"d":"down"},{"w":810,"v0":173,"v":163,"d":"down"},{"w":455,"v0":153,"v":139,"d":"down"},{"w":980,"v0":163,"v":141,"d":"down"},{"w":610,"v0":164,"v":153,"d":"down"},
{"w":3467,"v0":59,"v":38,"d":"down"},{"w":1660,"v0":111,"v":96,"d":"down"},{"w":1226,"v0":54,"v":44,"d":"down"},{"w":1094,"v0":54,"v":36,"d":"down"},{"w":976,"v0":101,"v":79,"d":"down"},{"w":818,"v0":126,"v":113,"d":"down"},{"w":441,"v0":89,"v":76,"d":"down"}
],
"b_names": [
{"w":3919,"v":248,"t":"PVP"},{"w":3994,"v":139,"t":"Si-PVP"},{"w":3957,"v":23,"t":"TEOS"}
]
},
"hconcat": [
{
  "width": 214, "height": 294,
  "title": {"text": "(a)", "orient": "bottom", "font": "Liberation Serif", "fontWeight": "bold", "fontSize": 10.5, "offset": 37, "color": "black", "baseline": "top"},
  "encoding": {
    "x": {"field": "w", "type": "quantitative", "scale": {"domain": [4000, 300], "nice": false, "zero": false},
      "axis": {"values": [4000,3500,3000,2500,2000,1500,1000,500], "format": "d", "title": "Wavenumber, cm⁻¹", "labelFontSize": 9, "titleFontSize": 11, "tickSize": 3, "labelPadding": 3, "titlePadding": 7, "titleX": 118, "labelFlush": false, "labelOverlap": false}},
    "y": {"field": "v", "type": "quantitative", "scale": {"domain": [0, 294], "nice": false, "zero": false},
      "axis": {"title": "Tansmittaance, (a.u.)", "labels": false, "ticks": false, "titleFontSize": 10, "titlePadding": 14.5}}
  },
  "layer": [
    {"data": {"name": "a_lines"}, "mark": {"type": "line", "strokeWidth": 1},
     "encoding": {"color": {"field": "s", "type": "nominal", "legend": null, "scale": {"domain": ["IBP","IBPf","SiA","SiH"], "range": ["#b9613f","#e0402f","#2b2bd6","#111111"]}}}},
    {"data": {"name": "a_arr"}, "mark": {"type": "rule", "color": "black", "strokeWidth": 0.8},
     "encoding": {"y2": {"field": "v0"}}},
    {"data": {"name": "a_arr"}, "mark": {"type": "point", "filled": true, "color": "black", "size": 12, "opacity": 1},
     "encoding": {"shape": {"field": "d", "type": "nominal", "legend": null, "scale": {"domain": ["down","up"], "range": ["triangle-down","triangle-up"]}}}},
    {"data": {"name": "a_txt"}, "mark": {"type": "text", "angle": 270, "fontSize": 8.5, "color": "black"},
     "encoding": {"text": {"field": "t"}}},
    {"data": {"name": "a_names"}, "mark": {"type": "text", "align": "left", "fontSize": 10, "fontWeight": "bold", "color": "black"},
     "encoding": {"text": {"field": "t"}}},
    {"data": {"name": "a_names_small"}, "mark": {"type": "text", "align": "left", "fontSize": 8.5, "fontWeight": "bold", "color": "black"},
     "encoding": {"text": {"field": "t"}}},
    {"data": {"name": "a_tags"}, "mark": {"type": "text", "align": "left", "fontSize": 10, "color": "black"},
     "encoding": {"text": {"field": "t"}}},
    {"data": {"name": "a_tags_small"}, "mark": {"type": "text", "align": "left", "fontSize": 8.5, "color": "black"},
     "encoding": {"text": {"field": "t"}}}
  ]
},
{
  "width": 197, "height": 293,
  "title": {"text": "(b)", "orient": "bottom", "font": "Liberation Serif", "fontWeight": "bold", "fontSize": 10.5, "offset": 41, "color": "black", "baseline": "top"},
  "encoding": {
    "x": {"field": "w", "type": "quantitative", "scale": {"domain": [4000, 280], "nice": false, "zero": false},
      "axis": {"values": [4000,3500,3000,2500,2000,1500,1000,500], "format": "d", "title": "Wavenumber, cm⁻¹", "labelFontSize": 9, "titleFontSize": 11, "tickSize": 3, "labelPadding": 3, "titlePadding": 4, "titleX": 105, "labelFlush": false, "labelOverlap": false}},
    "y": {"field": "v", "type": "quantitative", "scale": {"domain": [0, 293], "nice": false, "zero": false},
      "axis": {"title": "Transimittance, (a.u.)", "labels": false, "ticks": false, "titleFontSize": 10, "titlePadding": 3.5, "titleY": 159}}
  },
  "layer": [
    {"data": {"name": "b_lines"}, "mark": {"type": "line", "strokeWidth": 1},
     "encoding": {"color": {"field": "s", "type": "nominal", "legend": null, "scale": {"domain": ["PVP","SiPVP","TEOS"], "range": ["#111111","#58c41e","#a8402a"]}}}},
    {"data": {"name": "b_arr"}, "mark": {"type": "rule", "color": "black", "strokeWidth": 0.8},
     "encoding": {"y2": {"field": "v0"}}},
    {"data": {"name": "b_arr"}, "mark": {"type": "point", "filled": true, "color": "black", "size": 12, "opacity": 1},
     "encoding": {"shape": {"field": "d", "type": "nominal", "legend": null, "scale": {"domain": ["down","up"], "range": ["triangle-down","triangle-up"]}}}},
    {"data": {"name": "b_txt"}, "mark": {"type": "text", "angle": 270, "fontSize": 8.5, "color": "black"},
     "encoding": {"text": {"field": "t"}}},
    {"data": {"name": "b_names"}, "mark": {"type": "text", "align": "left", "fontSize": 10, "fontWeight": "bold", "color": "black"},
     "encoding": {"text": {"field": "t"}}}
  ]
}
],
"resolve": {"scale": {"color": "independent", "x": "independent", "y": "independent"}}
}
